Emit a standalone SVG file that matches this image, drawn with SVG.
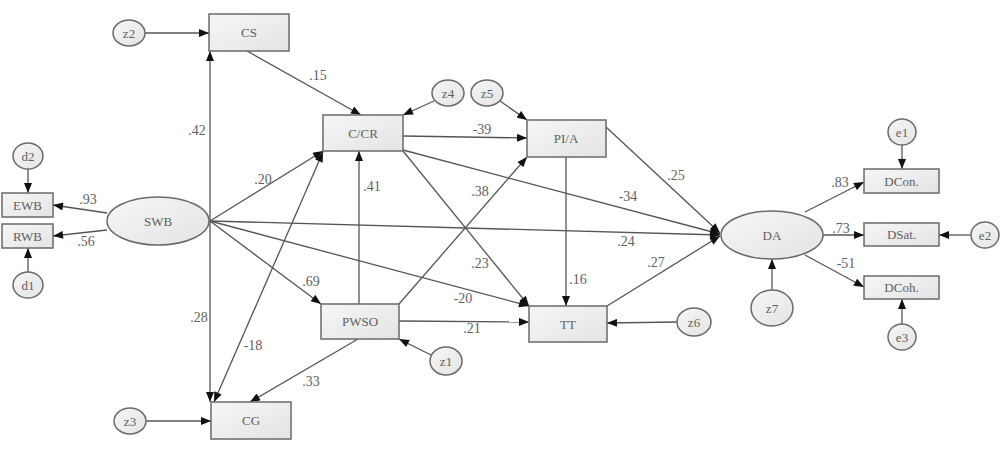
<svg xmlns="http://www.w3.org/2000/svg" width="1000" height="457" viewBox="0 0 1000 457">
<defs>
<linearGradient id="g" x1="0" y1="0" x2="1" y2="1">
<stop offset="0" stop-color="#f6f6f6"/>
<stop offset="1" stop-color="#e4e4e4"/>
</linearGradient>
<marker id="a" viewBox="0 0 10 8" refX="10" refY="4" markerWidth="11" markerHeight="8" markerUnits="userSpaceOnUse" orient="auto-start-reverse">
<path d="M0,0 L10,4 L0,8 Z" fill="#111"/>
</marker>
</defs>
<style>
.n rect,.n ellipse{fill:url(#g);stroke:#6a6a6a;stroke-width:1.5}
text{font-family:"Liberation Serif","DejaVu Serif",serif;font-size:13px;fill:#606060;text-anchor:middle;dominant-baseline:central}
.c line{stroke:#555;stroke-width:1.3;fill:none;marker-end:url(#a)}
.c line.b{marker-start:url(#a)}
.l text{font-size:14px}
</style>
<rect width="1000" height="457" fill="#fff"/>
<g class="c" id="connectors">
<line x1="145" y1="33" x2="209" y2="33"/>
<line x1="210" y1="221" x2="210" y2="51"/>
<line x1="210" y1="221" x2="210" y2="402"/>
<line x1="146" y1="421" x2="211" y2="421"/>
<line x1="107" y1="213" x2="53" y2="205"/>
<line x1="107" y1="230" x2="53" y2="236"/>
<line x1="28" y1="169" x2="28" y2="193"/>
<line x1="28" y1="272" x2="28" y2="248"/>
<line x1="247" y1="51" x2="361" y2="115"/>
<line x1="434" y1="101" x2="403" y2="115"/>
<line x1="500" y1="101" x2="527" y2="120"/>
<line x1="403" y1="136" x2="527" y2="138"/>
<line x1="210" y1="221" x2="323" y2="151"/>
<line class="b" x1="214" y1="402" x2="323" y2="152"/>
<line x1="359" y1="304" x2="359" y2="151"/>
<line x1="399" y1="304" x2="527" y2="157"/>
<line x1="403" y1="151" x2="529" y2="306"/>
<line x1="403" y1="150" x2="720" y2="234"/>
<line x1="210" y1="221" x2="720" y2="235"/>
<line x1="210" y1="221" x2="529" y2="306"/>
<line x1="210" y1="221" x2="321" y2="304"/>
<line x1="399" y1="321" x2="529" y2="322"/>
<line x1="358" y1="339" x2="250" y2="402"/>
<line x1="431" y1="355" x2="399" y2="339"/>
<line x1="677" y1="322" x2="607" y2="323"/>
<line x1="566" y1="157" x2="566" y2="306"/>
<line x1="606" y1="127" x2="720" y2="233"/>
<line x1="607" y1="306" x2="720" y2="236"/>
<line x1="805" y1="212" x2="864" y2="182"/>
<line x1="823" y1="235" x2="864" y2="235"/>
<line x1="805" y1="255" x2="864" y2="287"/>
<line x1="902" y1="145" x2="902" y2="169"/>
<line x1="971" y1="235" x2="939" y2="235"/>
<line x1="902" y1="324" x2="902" y2="299"/>
<line x1="772" y1="290" x2="772" y2="259"/>
</g>
<g class="l" id="labels">
<text x="318" y="75">.15</text>
<text x="197" y="130">.42</text>
<text x="263" y="179">.20</text>
<text x="482" y="129">-39</text>
<text x="372" y="186">.41</text>
<text x="480" y="191">.38</text>
<text x="628" y="196">-34</text>
<text x="626" y="241">.24</text>
<text x="676" y="175">.25</text>
<text x="656" y="262">.27</text>
<text x="480" y="263">.23</text>
<text x="578" y="279">.16</text>
<text x="311" y="281">.69</text>
<text x="463" y="298">-20</text>
<text x="472" y="328">.21</text>
<text x="199" y="317">.28</text>
<text x="253" y="345">-18</text>
<text x="311" y="381">.33</text>
<text x="88" y="199">.93</text>
<text x="86" y="241">.56</text>
<text x="840" y="182">.83</text>
<text x="841" y="228">.73</text>
<text x="846" y="263">-51</text>
</g>
<g class="n" id="CS"><rect x="209" y="14" width="80" height="37"/><text x="249" y="32.5">CS</text></g>
<g class="n" id="CCR"><rect x="323" y="115" width="80" height="36"/><text x="363" y="133">C/CR</text></g>
<g class="n" id="PIA"><rect x="527" y="120" width="79" height="37"/><text x="566" y="138.5">PI/A</text></g>
<g class="n" id="PWSO"><rect x="321" y="304" width="78" height="35"/><text x="360" y="321.5">PWSO</text></g>
<g class="n" id="TT"><rect x="529" y="306" width="78" height="36"/><text x="568" y="324">TT</text></g>
<g class="n" id="CG"><rect x="211" y="402" width="80" height="37"/><text x="251" y="420.5">CG</text></g>
<g class="n" id="SWB"><ellipse cx="158" cy="221" rx="51" ry="24"/><text x="158" y="221">SWB</text></g>
<g class="n" id="EWB"><rect x="2" y="193" width="51" height="24"/><text x="27.5" y="205">EWB</text></g>
<g class="n" id="RWB"><rect x="2" y="224" width="51" height="24"/><text x="27.5" y="236">RWB</text></g>
<g class="n" id="d2"><ellipse cx="28" cy="156" rx="15" ry="13"/><text x="28" y="156">d2</text></g>
<g class="n" id="d1"><ellipse cx="28" cy="285" rx="15" ry="13"/><text x="28" y="285">d1</text></g>
<g class="n" id="z2"><ellipse cx="129" cy="33" rx="16" ry="13"/><text x="129" y="33">z2</text></g>
<g class="n" id="z3"><ellipse cx="130" cy="421" rx="16" ry="13"/><text x="130" y="421">z3</text></g>
<g class="n" id="z4"><ellipse cx="448" cy="93" rx="16" ry="13"/><text x="448" y="93">z4</text></g>
<g class="n" id="z5"><ellipse cx="487" cy="93" rx="16" ry="13"/><text x="487" y="93">z5</text></g>
<g class="n" id="z1"><ellipse cx="446" cy="361" rx="16" ry="14"/><text x="446" y="361">z1</text></g>
<g class="n" id="z6"><ellipse cx="694" cy="322" rx="17" ry="14"/><text x="694" y="322">z6</text></g>
<g class="n" id="DA"><ellipse cx="772" cy="235" rx="51" ry="24"/><text x="772" y="235">DA</text></g>
<g class="n" id="z7"><ellipse cx="772" cy="308" rx="21" ry="18"/><text x="772" y="308">z7</text></g>
<g class="n" id="DCon"><rect x="864" y="169" width="75" height="24"/><text x="901.5" y="181">DCon.</text></g>
<g class="n" id="DSat"><rect x="864" y="223" width="75" height="23"/><text x="901.5" y="234.5">DSat.</text></g>
<g class="n" id="DCoh"><rect x="864" y="276" width="75" height="23"/><text x="901.5" y="287.5">DCoh.</text></g>
<g class="n" id="e1"><ellipse cx="902" cy="132" rx="14" ry="13"/><text x="902" y="132">e1</text></g>
<g class="n" id="e2"><ellipse cx="985" cy="235" rx="14" ry="13"/><text x="985" y="235">e2</text></g>
<g class="n" id="e3"><ellipse cx="902" cy="337" rx="14" ry="13"/><text x="902" y="337">e3</text></g>
</svg>
